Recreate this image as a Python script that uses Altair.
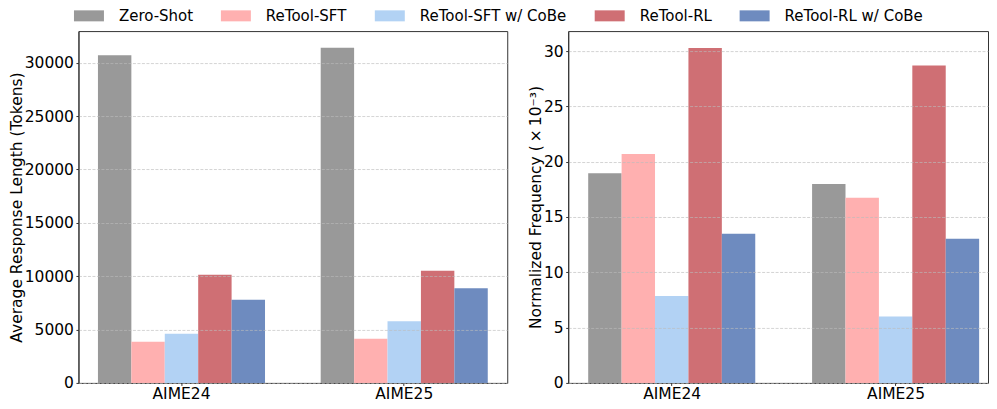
import altair as alt
import pandas as pd

datasets = ["AIME24", "AIME25"]
methods = ["Zero-Shot", "ReTool-SFT", "ReTool-SFT w/ CoBe", "ReTool-RL", "ReTool-RL w/ CoBe"]
colors = ["#999999", "#FFB0B0", "#B2D2F4", "#CF6F74", "#6E8BBF"]

# Average response length (tokens), per method: [AIME24, AIME25]
tokens = {
    "Zero-Shot": [30700, 31400],
    "ReTool-SFT": [3860, 4130],
    "ReTool-SFT w/ CoBe": [4600, 5780],
    "ReTool-RL": [10130, 10520],
    "ReTool-RL w/ CoBe": [7800, 8880],
}
# Normalized frequency (x10^-3), per method: [AIME24, AIME25]
freq = {
    "Zero-Shot": [18.94, 17.97],
    "ReTool-SFT": [20.7, 16.74],
    "ReTool-SFT w/ CoBe": [7.85, 6.0],
    "ReTool-RL": [30.28, 28.7],
    "ReTool-RL w/ CoBe": [13.48, 13.04],
}

rows = []
for m in methods:
    for i, d in enumerate(datasets):
        rows.append({"dataset": d, "method": m, "tokens": tokens[m][i], "freq": freq[m][i]})
df = pd.DataFrame(rows)

FONT = "DejaVu Sans"
FS = 15.5
H = 352


def x_enc(scale):
    return alt.X(
        "dataset:N",
        sort=datasets,
        scale=scale,
        axis=alt.Axis(title=None, labelAngle=0, tickSize=2.5, labelPadding=1,
                      grid=False, domain=False, zindex=1),
    )


xoff = alt.XOffset("method:N", sort=methods, scale=alt.Scale(paddingInner=0, paddingOuter=0))
color = alt.Color(
    "method:N",
    sort=methods,
    scale=alt.Scale(domain=methods, range=colors),
    legend=alt.Legend(
        title=None,
        orient="none",
        direction="horizontal",
        legendX=3,
        legendY=-23,
        symbolType="M-2.727,-1L2.727,-1L2.727,1L-2.727,1Z",
        symbolSize=121,
        symbolStrokeWidth=0,
        symbolOpacity=1,
        labelOffset=22.5,
        columnPadding=27,
        labelFont=FONT,
        labelFontSize=15,
        labelColor="black",
        labelLimit=400,
        padding=0,
    ),
)

left = alt.Chart(df).mark_bar(stroke=None).encode(
    x=x_enc(alt.Scale(paddingInner=0.25, paddingOuter=0.0875)),
    xOffset=xoff,
    y=alt.Y(
        "tokens:Q",
        scale=alt.Scale(domain=[0, 32970], nice=False),
        axis=alt.Axis(
            title="Average Response Length (Tokens)",
            titleX=-62, titleY=H / 2, titleBaseline="middle", titleAngle=270,
            values=[0, 5000, 10000, 15000, 20000, 25000, 30000],
            format="d", tickSize=2.5, labelPadding=2.5, grid=True, zindex=1,
        ),
    ),
    color=color,
).properties(width=429, height=H)

# right panel: its right part runs past the window edge, so the outer padding is uneven
right = alt.Chart(df).mark_bar(stroke=None).encode(
    x=x_enc(alt.Scale(paddingInner=0.25, paddingOuter=0.0625, align=0.714)),
    xOffset=xoff,
    y=alt.Y(
        "freq:Q",
        scale=alt.Scale(domain=[0, 31.8], nice=False),
        axis=alt.Axis(
            title="Normalized Frequency (\u2009\u00d7\u200910\u207b\u00b3)",
            titleX=-33, titleY=H / 2, titleBaseline="middle", titleAngle=270,
            values=[0, 5, 10, 15, 20, 25, 30],
            format="d", tickSize=2.5, labelPadding=2.5, grid=True, zindex=1,
        ),
    ),
    color=color,
).properties(width=420, height=H)

chart = (
    alt.hconcat(left, right, spacing=61, bounds="flush")
    .properties(padding={"left": 0.5, "top": 0, "right": 0, "bottom": -1})
    .configure_view(stroke="#333333", strokeWidth=1)
    .configure_axis(
        labelFont=FONT,
        labelFontSize=FS,
        labelColor="black",
        titleFont=FONT,
        titleFontSize=FS,
        titleFontWeight="normal",
        titleColor="black",
        tickColor="#333333",
        domainColor="#333333",
        gridColor="#bbbbbb",
        gridDash=[3, 1.5],
        gridWidth=0.8,
        gridOpacity=0.8,
    )
)

chart.save("out.html", embed_options={"renderer": "svg", "actions": False})
